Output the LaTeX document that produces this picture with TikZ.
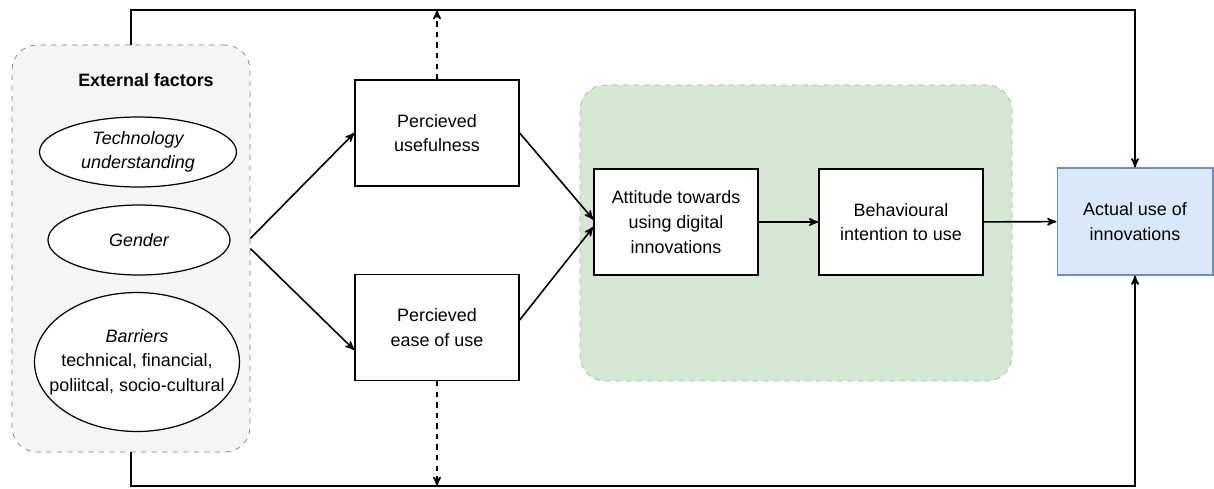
\documentclass[tikz,border=0pt]{standalone}
\usepackage{fontspec}
\setmainfont{Liberation Sans}
\usetikzlibrary{arrows,shapes.geometric}
\definecolor{panelgray}{HTML}{F5F5F5}
\definecolor{panelline}{HTML}{7F7F7F}
\definecolor{groupfill}{HTML}{D5E8D4}
\definecolor{groupline}{HTML}{9DBF8E}
\definecolor{usefill}{HTML}{DAE8FC}
\definecolor{useline}{HTML}{6C8EBF}

\begin{document}
\begin{tikzpicture}[x=0.02cm,y=-0.02cm]
    \tikzset{box/.style = {shape=rectangle,draw,fill=white,line width=0.8pt,minimum width=3.28cm,minimum height=2.12cm,align=center,font=\fontsize{10.2}{14}\selectfont}}
    \tikzset{factor/.style = {shape=ellipse,draw,fill=white,line width=0.7pt,inner sep=0pt}}
    \tikzset{label/.style = {align=center,font=\fontsize{10.2}{14}\selectfont\itshape}}
    \tikzset{edge/.style = {->,> = stealth',line width=0.9pt}}
    \tikzset{link/.style = {edge,dashed}}
    \useasboundingbox (0,0) rectangle (1214,488);
    % groups
    \node[draw=panelline,dashed,fill=panelgray,rounded corners=0.5cm,minimum width=4.76cm,minimum height=8.14cm] (ext) at (131,248.5) {};
    \node[draw=groupline,dashed,fill=groupfill,rounded corners=0.5cm,minimum width=8.64cm,minimum height=5.92cm] (grp) at (796,233) {};
    \node[font=\fontsize{10.2}{14}\selectfont\bfseries] (title) at (146,80) {External factors};
    % external factors
    \node[factor,minimum width=3.94cm,minimum height=1.4cm] (tech) at (138,152) {};
    \node[factor,minimum width=3.64cm,minimum height=1.4cm] (gender) at (139,240) {};
    \node[factor,minimum width=4.1cm,minimum height=2.78cm] (barrier) at (137,362) {};
    \node[label] (techtext) at (tech) {Technology\\understanding};
    \node[label] (gendertext) at (gender) {Gender};
    \node[label] (barriertext) at (barrier) {Barriers\\\upshape technical, financial,\\\upshape poliitcal, socio-cultural};
    % vertices
    \node[box] (pu) at (437,133) {Percieved\\usefulness};
    \node[box] (peou) at (437,327.5) {Percieved\\ease of use};
    \node[box] (att) at (676,222) {Attitude towards\\using digital\\innovations};
    \node[box] (bi) at (901,222) {Behavioural\\intention to use};
    \node[box,fill=usefill,draw=useline,line width=0.6pt,minimum width=3.12cm,minimum height=2.14cm] (use) at (1135,221.5) {Actual use of\\innovations};
    \coordinate (top) at (0,10);
    \coordinate (bot) at (0,486);
    %edges
    \draw[edge] ([yshift=0.2cm]ext.east) to (pu.west);
    \draw[edge] (ext.east) to ([yshift=-0.45cm]peou.west);
    \draw[edge] (pu.east) to ([yshift=0.05cm]att.west);
    \draw[edge] ([yshift=0.15cm]peou.east) to ([yshift=-0.1cm]att.west);
    \draw[edge] (att) to (bi);
    \draw[edge] (bi) to (use);
    \draw[link] (pu.north) to (pu.north |- top);
    \draw[link] (peou.south) to (peou.south |- bot);
    \draw[edge] (ext.north) |- (top -| use.north) -- (use.north);
    \draw[edge] (ext.south) |- (bot -| use.south) -- (use.south);
\end{tikzpicture}
\end{document}
